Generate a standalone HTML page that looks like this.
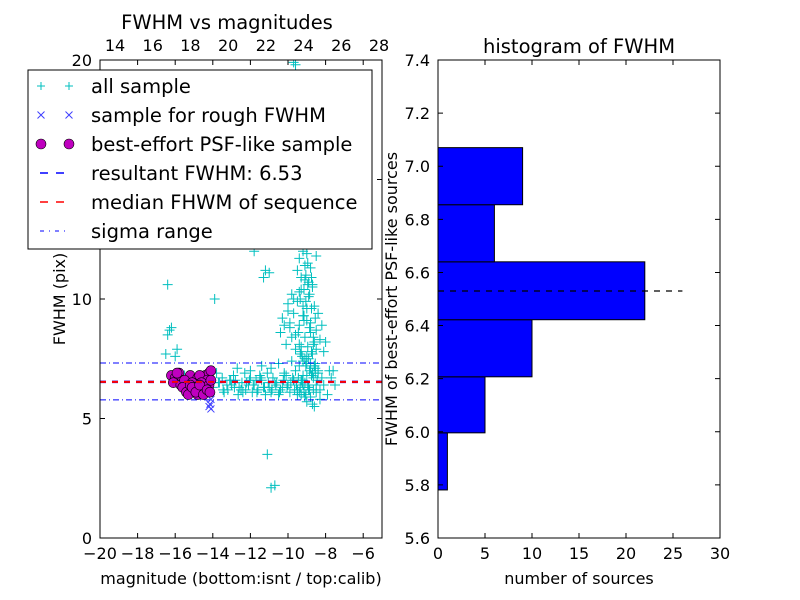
<!DOCTYPE html>
<html><head><meta charset="utf-8"><style>
body{margin:0;background:#fff;}
svg{display:block;font-family:"DejaVu Sans","Liberation Sans",sans-serif;}
</style></head><body>
<svg id="fig" width="800" height="600" viewBox="0 0 800 600">
<rect x="0" y="0" width="800" height="600" fill="#fff"/>
<g id="left"></g>
<g id="right"></g>
</svg>
<script>
// ---- Scatter data (bottom mag, FWHM) ----
const allMag = [-16.4,-16.3,-16.4,-16.2,-15.9,-16.0,-16.5,-13.9,-16.3,-11.8,-11.2,-11.3,-11.0,-11.1,-10.9,-10.7,-9.7,-9.6,
-15.5,-15.2,-14.8,-14.0,-13.7,-13.5,-13.2,-13.0,-12.8,-12.6,-12.4,-12.2,-12.0,-11.8,-11.6,-11.4,-11.2,-11.0,-10.8,-10.6,-10.4,-10.2,-10.0,
-13.8,-13.4,-13.1,-12.9,-12.5,-12.3,-12.1,-11.9,-11.7,-11.5,-11.3,-11.1,-10.9,-10.7,-10.5,-10.3,-10.1,-9.9,-9.7,-9.5,-9.3,-9.1,-8.9,-8.7,-8.5,-8.3,-8.1,-7.9,-7.7,
-12.7,-12.0,-11.4,-10.9,-10.5,-10.2,-9.8,-9.6,-9.4,-9.2,-9.0,-8.8,-8.6,-8.4,-8.2,-7.8,
-10.4,-10.3,-10.1,-10.0,-9.9,-9.8,-9.7,-9.6,-9.5,-9.4,-9.3,-9.2,-9.1,-9.0,-8.9,-8.8,-8.7,-8.6,-8.5,-8.4,-8.3,-8.2,-8.1,
-9.5,-9.4,-9.3,-9.2,-9.1,-9.0,-8.9,-8.8,-8.7,-8.6,-8.5,-9.3,-9.1,-8.9,-8.7,-9.2,-9.0,-8.8,-9.6,-9.4,-8.6,-8.4,
-9.3,-9.1,-8.9,-9.0,-8.8,-9.2,-9.4,-8.7,-9.0,-8.9,-9.1,-9.3,-8.8,-9.0,-9.2,-8.6,-9.5,-8.5,-9.7,-8.3,-7.6,-7.5,
-9.8,-9.9,-10.2,-10.0,-9.7,-9.4,-9.0,-8.5,-8.0,-9.6,-9.3,
-9.05,-8.95,-8.85,-8.75,-9.15,-9.25,-8.65,-8.55,-9.35,-9.45,-9.05,-8.95,-8.85,-8.75,-9.15,-9.25,-8.65,-8.55,-9.35,-9.45,
-9.05,-8.95,-8.85,-8.75,-9.15,-9.25,-8.65,-8.55,-9.35,-8.45,-9.55,-9.65,-9.75,-9.85,-10.05,-10.25,-10.45,-10.65,-10.85,-11.05,
-11.25,-11.45,-11.65,-11.85,-12.05,-12.25,-12.45,-12.65,-12.85,-13.05,-13.25,-13.45,-13.65,-9.05,-8.95,-8.85,-8.75,-9.15,-8.65,-8.55];
const allFwhm = [10.6,8.7,8.5,8.8,7.9,7.6,7.7,10.0,12.3,12.0,11.2,10.9,11.1,3.5,2.1,2.2,19.9,19.8,
6.8,6.6,6.5,6.3,6.5,6.7,6.2,6.4,6.6,6.3,6.1,6.5,6.7,6.4,6.2,6.6,6.0,6.3,6.7,6.5,6.2,6.8,6.4,
6.9,6.1,6.6,6.8,6.2,6.9,6.4,6.1,6.6,6.8,6.3,6.9,6.1,6.5,6.0,6.3,6.8,6.1,6.6,6.2,6.0,6.5,6.3,6.9,6.1,5.8,6.4,6.0,6.7,
7.1,7.0,7.2,7.1,7.3,6.9,7.4,7.0,7.2,6.8,7.3,7.1,7.2,7.0,6.7,7.0,
8.6,9.2,8.1,9.8,8.8,10.2,9.4,8.5,9.9,8.9,10.4,9.3,10.8,9.6,10.1,9.0,10.5,9.7,8.7,9.4,8.3,8.9,7.8,
11.2,11.7,10.9,12.0,11.4,11.9,10.7,11.3,10.6,8.2,7.9,7.8,8.4,7.5,7.7,7.4,7.6,7.3,7.9,8.1,7.2,6.9,
6.6,5.9,6.2,5.7,5.9,6.4,6.1,5.6,6.8,6.3,7.5,8.0,8.6,9.1,9.7,5.5,6.0,6.4,6.6,6.2,7.0,6.4,
8.4,9.0,8.9,9.5,10.0,10.3,12.5,11.8,8.2,13.0,14.5,
7.2,8.0,8.8,9.6,10.4,7.6,8.4,9.2,10.0,8.6,9.9,10.6,7.0,7.8,9.1,6.6,6.2,7.1,7.7,6.7,
6.0,6.4,6.2,6.8,6.1,6.5,6.7,6.9,6.3,6.6,6.4,6.2,6.7,6.5,6.3,6.6,6.1,6.4,6.2,6.5,
6.3,6.7,6.1,6.4,6.6,6.2,6.5,6.0,6.3,6.6,6.4,6.2,6.5,11.0,11.5,10.2,10.9,9.3,8.1,7.3];
const psfMag = [-16.2,-16.0,-15.8,-15.6,-15.4,-15.2,-15.0,-14.8,-14.6,-14.4,-14.2,-16.1,-15.9,-15.7,-15.5,-15.3,-15.1,-14.9,-14.7,-14.5,-14.3,-14.1,
-15.6,-15.4,-15.2,-15.0,-14.8,-14.6,-14.4,-14.2,-14.1,-15.3,-15.1,-14.9,-14.7,-14.5,-14.3,-14.15];
const psfFwhm = [6.8,6.7,6.9,6.6,6.5,6.8,6.4,6.7,6.3,6.8,6.9,6.5,6.9,6.4,6.6,6.2,6.5,6.3,6.8,6.2,6.6,7.0,
6.3,6.1,6.4,6.2,6.0,6.5,6.1,6.4,6.6,6.0,6.3,6.1,6.4,6.0,6.2,6.1];
const roughMag = [-14.1,-14.15,-14.2,-14.1];
const roughFwhm = [5.4,5.6,5.5,5.8];
const resultFwhm = 6.53, medianFwhm = 6.53, sigLo = 5.78, sigHi = 7.32;
const xTicks = [-20,-18,-16,-14,-12,-10,-8,-6];
const xTickLabels = ["\u221220","\u221218","\u221216","\u221214","\u221212","\u221210","\u22128","\u22126"];
const yTicks = [0,5,10,15,20];
const topTicks = [14,16,18,20,22,24,26,28];
// ---- Histogram data ----
const binEdges = [5.781,5.996,6.207,6.422,6.640,6.855,7.070];
const binCounts = [1,5,10,22,6,9];
const hxTicks = [0,5,10,15,20,25,30];
const hyTicks = [5.6,5.8,6.0,6.2,6.4,6.6,6.8,7.0,7.2,7.4];

const NS="http://www.w3.org/2000/svg";
function mk(p,t,a,txt){const e=document.createElementNS(NS,t);for(const k in a)e.setAttribute(k,a[k]);if(txt!==undefined)e.textContent=txt;p.appendChild(e);return e;}
const L=document.getElementById('left'), R=document.getElementById('right');
const lx0=100,lx1=382,ly0=60,ly1=538;
const sx=v=>lx0+(v+20)/15*(lx1-lx0);
const sy=v=>ly1-v/20*(ly1-ly0);
const tx=v=>115+(v-14)*18.86;
mk(L,'rect',{x:lx0,y:ly0,width:lx1-lx0,height:ly1-ly0,fill:'#fff'});
const clip=mk(L,'clipPath',{id:'lc'});mk(clip,'rect',{x:lx0,y:ly0,width:lx1-lx0,height:ly1-ly0});
const G=mk(L,'g',{'clip-path':'url(#lc)'});
for(let i=0;i<allMag.length;i++){
 const x=sx(allMag[i]),y=sy(allFwhm[i]);
 const e=mk(G,'path',{d:`M${x-5},${y}H${x+5}M${x},${y-5}V${y+5}`,stroke:'#00bfbf','stroke-width':1});
 
 
}
for(let i=0;i<roughMag.length;i++){
 const x=sx(roughMag[i]),y=sy(roughFwhm[i]);
 const e=mk(G,'path',{d:`M${x-3.5},${y-3.5}L${x+3.5},${y+3.5}M${x-3.5},${y+3.5}L${x+3.5},${y-3.5}`,stroke:'#4040ff','stroke-width':1});
 
 
}
for(let i=0;i<psfMag.length;i++){
 const e=mk(G,'circle',{cx:sx(psfMag[i]),cy:sy(psfFwhm[i]),r:5,fill:'#bf00bf',stroke:'#000','stroke-width':0.6});
 
 
}
let e;
e=mk(G,'line',{x1:lx0,x2:lx1,y1:sy(resultFwhm),y2:sy(resultFwhm),stroke:'#0000ff','stroke-width':2.5,'stroke-dasharray':'6,6'});

e=mk(G,'line',{x1:lx0,x2:lx1,y1:sy(medianFwhm),y2:sy(medianFwhm),stroke:'#ff0000','stroke-width':2,'stroke-dasharray':'6,6'});

[sigLo,sigHi].forEach(v=>{e=mk(G,'line',{x1:lx0,x2:lx1,y1:sy(v),y2:sy(v),stroke:'#0000ff','stroke-width':1,'stroke-dasharray':'6,3,1,3'});
 });
mk(L,'rect',{x:lx0,y:ly0,width:lx1-lx0,height:ly1-ly0,fill:'none',stroke:'#000','stroke-width':1});
xTicks.forEach((v,i)=>{const x=sx(v);mk(L,'path',{d:`M${x},${ly1}v-5M${x},${ly0}v5`,stroke:'#000'});
 mk(L,'text',{x:x,y:ly1+21,'font-size':16,'text-anchor':'middle'},xTickLabels[i]);});
topTicks.forEach(v=>{mk(L,'text',{x:tx(v),y:ly0-9,'font-size':16,'text-anchor':'middle'},String(v));});
yTicks.forEach(v=>{const y=sy(v);mk(L,'path',{d:`M${lx0},${y}h5M${lx1},${y}h-5`,stroke:'#000'});
 mk(L,'text',{x:lx0-8,y:y+6,'font-size':16,'text-anchor':'end'},String(v));});
mk(L,'text',{x:241,y:584,'font-size':16,'text-anchor':'middle',},'magnitude (bottom:isnt / top:calib)');
mk(L,'text',{x:0,y:0,'font-size':16,'text-anchor':'middle',transform:'translate(65,299) rotate(-90)',},'FWHM (pix)');
mk(L,'text',{x:227,y:29,'font-size':19.5,'text-anchor':'middle',},'FWHM vs magnitudes');
const LG=mk(L,'g',{});
mk(LG,'rect',{x:28,y:70,width:344,height:179,fill:'#fff',stroke:'#000','stroke-width':1});
const labs=['all sample','sample for rough FWHM','best-effort PSF-like sample','resultant FWHM: 6.53','median FHWM of sequence','sigma range'];
labs.forEach((t,i)=>{const y=86+i*29;
 const g=mk(LG,'g',{});
 if(i==0){[41,69].forEach(x=>mk(g,'path',{d:`M${x-4},${y}h8M${x},${y-4}v8`,stroke:'#00bfbf'}));}
 if(i==1){[41,69].forEach(x=>mk(g,'path',{d:`M${x-3.5},${y-3.5}l7,7M${x-3.5},${y+3.5}l7,-7`,stroke:'#4040ff'}));}
 if(i==2){[41,69].forEach(x=>mk(g,'circle',{cx:x,cy:y,r:5,fill:'#bf00bf',stroke:'#000','stroke-width':0.6}));}
 if(i==3)mk(g,'line',{x1:40,x2:68,y1:y,y2:y,stroke:'#0000ff','stroke-width':1.5,'stroke-dasharray':'8,8'});
 if(i==4)mk(g,'line',{x1:40,x2:68,y1:y,y2:y,stroke:'#ff0000','stroke-width':1.5,'stroke-dasharray':'8,8'});
 if(i==5)mk(g,'line',{x1:40,x2:68,y1:y,y2:y,stroke:'#0000ff','stroke-width':1,'stroke-dasharray':'4,5,1,5'});
 mk(g,'text',{x:91,y:y+7,'font-size':19.5},t);
});
const rx0=438,rx1=720,ry0=60,ry1=538;
const hx=v=>rx0+v/30*(rx1-rx0);
const hy=v=>ry1-(v-5.6)/1.8*(ry1-ry0);
for(let i=0;i<binCounts.length;i++){
 const b=mk(R,'rect',{x:hx(0),y:hy(binEdges[i+1]),width:hx(binCounts[i])-hx(0),height:hy(binEdges[i])-hy(binEdges[i+1]),fill:'#0000ff',stroke:'#000','stroke-width':1});
 
 
}
e=mk(R,'line',{x1:hx(0),x2:hx(26),y1:hy(resultFwhm),y2:hy(resultFwhm),stroke:'#000','stroke-width':1.2,'stroke-dasharray':'6,6'});

mk(R,'rect',{x:rx0,y:ry0,width:rx1-rx0,height:ry1-ry0,fill:'none',stroke:'#000'});
hxTicks.forEach(v=>{const x=hx(v);mk(R,'path',{d:`M${x},${ry1}v-5M${x},${ry0}v5`,stroke:'#000'});
 mk(R,'text',{x:x,y:ry1+21,'font-size':16,'text-anchor':'middle'},String(v));});
hyTicks.forEach(v=>{const y=hy(v);mk(R,'path',{d:`M${rx0},${y}h5M${rx1},${y}h-5`,stroke:'#000'});
 mk(R,'text',{x:rx0-8,y:y+6,'font-size':16,'text-anchor':'end'},v.toFixed(1));});
mk(R,'text',{x:579,y:584,'font-size':16,'text-anchor':'middle',},'number of sources');
mk(R,'text',{x:0,y:0,'font-size':16,'text-anchor':'middle',transform:'translate(397,299) rotate(-90)',},'FWHM of best-effort PSF-like sources');
mk(R,'text',{x:579,y:53,'font-size':19.5,'text-anchor':'middle',},'histogram of FWHM');
</script>
</body></html>
